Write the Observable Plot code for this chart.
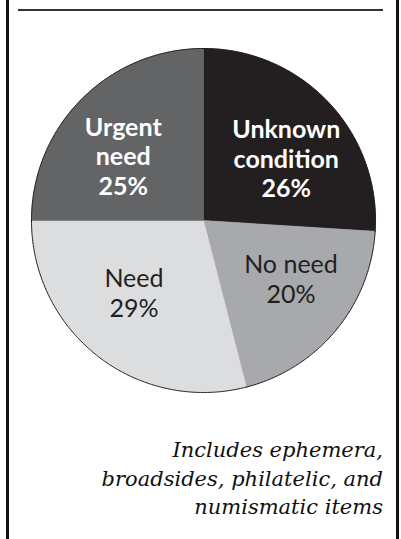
<!DOCTYPE html>
<html><head><meta charset="utf-8">
<script src="https://cdn.jsdelivr.net/npm/d3@7"></script>
<script src="https://cdn.jsdelivr.net/npm/@observablehq/plot@0.6"></script>
<style>
body{margin:0;background:#fff;}
#wrap{position:relative;width:401px;height:539px;overflow:hidden;background:#fff;}
.vline{position:absolute;top:0;bottom:0;width:2.5px;background:#111;}
#rule{position:absolute;left:18px;width:365px;top:9px;height:1.5px;background:#333;}
#chart{position:absolute;left:0;top:0;}
#caption{position:absolute;right:18px;top:436px;text-align:right;font-family:"DejaVu Serif";font-style:italic;font-size:21px;line-height:28.5px;color:#111;white-space:nowrap;}
</style></head><body>
<div id="wrap">
  <div class="vline" style="left:6px"></div>
  <div class="vline" style="left:396px"></div>
  <div id="rule"></div>
  <div id="chart"></div>
  <div id="caption">Includes ephemera,<br>broadsides, philatelic, and<br>numismatic items</div>
</div>
<script>
// data
const categories = ["Unknown condition", "No need", "Need", "Urgent need"];
const shares = [26, 20, 29, 25];
const labels = ["Unknown\ncondition", "No need", "Need", "Urgent\nneed"];
const palette = ["#231f20", "#a7a9ac", "#dcdddf", "#636466"];

const rows = categories.map((c, i) => ({cat: c, value: shares[i], label: labels[i] + "\n" + shares[i] + "%"}));
const arcs = d3.pie().sort(null).value(d => d.value)(rows);

// labels sit on an ellipse inside the pie
const labelRx = 0.66, labelRy = 0.53;

const wedges = [], outline = [], textRows = [];
arcs.forEach(a => {
  const cat = a.data.cat;
  const n = Math.ceil((a.endAngle - a.startAngle) / (Math.PI / 360));
  wedges.push({cat, x: 0, y: 0});
  for (let i = 0; i <= n; i++) {
    const t = a.startAngle + (a.endAngle - a.startAngle) * i / n;
    const p = {cat, x: Math.sin(t), y: Math.cos(t)};
    wedges.push(p);
    outline.push(p);
  }
  wedges.push({cat, x: 0, y: 0});
  const mid = (a.startAngle + a.endAngle) / 2;
  const col = palette[categories.indexOf(cat)];
  textRows.push({cat, label: a.data.label, x: labelRx * Math.sin(mid), y: labelRy * Math.cos(mid), dark: d3.lab(col).l < 50});
});

const chart = Plot.plot({
  width: 401,
  height: 539,
  margin: 0,
  style: {background: "transparent", overflow: "visible"},
  x: {domain: [-1, 1], range: [31, 375], axis: null},
  y: {domain: [-1, 1], range: [392, 48], axis: null},
  color: {domain: categories, range: palette},
  marks: [
    Plot.line(wedges, {x: "x", y: "y", z: "cat", fill: "cat", stroke: "cat", strokeWidth: 0.5, curve: "linear"}),
    Plot.line(outline, {x: "x", y: "y", z: "cat", stroke: "#231f20", strokeWidth: 1}),
    Plot.text(textRows.filter(d => d.dark), {x: "x", y: "y", text: "label", fill: "#ffffff", fontFamily: "Lato", fontWeight: "bold", fontSize: 25, lineHeight: 1.18}),
    Plot.text(textRows.filter(d => !d.dark), {x: "x", y: "y", text: "label", fill: "#231f20", fontFamily: "Lato", fontWeight: "normal", fontSize: 25, lineHeight: 1.18})
  ]
});
document.getElementById("chart").appendChild(chart);
</script>
</body></html>
